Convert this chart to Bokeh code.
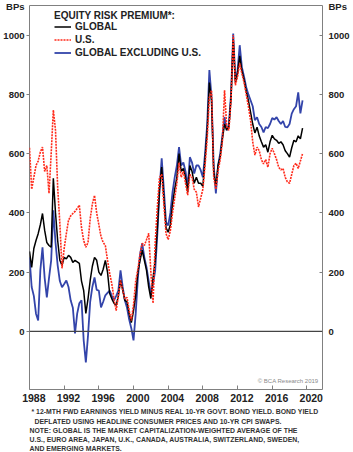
import numpy as np
from bokeh.plotting import figure
from bokeh.models import (Range1d, LinearAxis, FixedTicker, Span, Label, Legend,
                          LegendItem, ColumnDataSource, Title)
from bokeh.embed import file_html
from bokeh.resources import INLINE

# ---------------- data (quarterly, bps) ----------------
quarters = np.arange(1988.0, 2019.51, 0.25)

us = [620, 480, 520, 560, 575, 605, 622, 540, 560, 466, 600, 747, 679, 486, 365, 213,
      280, 330, 375, 390, 398, 405, 415, 426, 350, 307, 284, 300, 380, 430, 459, 400,
      360, 320, 300, 290, 240, 196, 160, 110, 70, 120, 172, 140, 110, 115, 70, 37,
      90, 170, 210, 260, 297, 290, 310, 331, 200, 95, 300, 420, 520, 530, 430, 330,
      310, 340, 400, 450, 500, 570, 520, 540, 500, 460, 530, 520, 480, 470, 420, 450,
      480, 560, 650, 790, 814, 520, 480, 540, 580, 640, 814, 690, 679, 780, 1000, 831,
      860, 905, 870, 840, 800, 760, 713, 640, 595, 622, 610, 580, 565, 580, 554, 600,
      618, 600, 580, 554, 545, 550, 520, 505, 500, 530, 560, 568, 550, 575, 600]

glob = [270, 216, 280, 307, 330, 360, 398, 341, 300, 290, 284, 517, 400, 307, 240, 223,
        250, 245, 257, 250, 233, 240, 235, 230, 170, 138, 61, 110, 172, 220, 250, 240,
        200, 189, 210, 240, 200, 128, 110, 95, 88, 120, 172, 140, 105, 100, 60, 30,
        70, 122, 200, 240, 274, 240, 206, 150, 111, 180, 240, 350, 480, 555, 450, 350,
        335, 360, 430, 480, 520, 600, 540, 550, 520, 470, 560, 540, 500, 520, 500, 500,
        490, 580, 680, 840, 780, 540, 490, 560, 590, 650, 700, 680, 690, 790, 985, 840,
        870, 930, 880, 850, 810, 780, 740, 700, 670, 689, 660, 640, 622, 630, 605, 640,
        662, 650, 645, 635, 640, 630, 610, 600, 588, 620, 645, 640, 660, 650, 686]

glob_ex_us = [250, 150, 120, 60, 37, 206, 284, 180, 115, 180, 240, 409, 300, 223, 170, 149,
              160, 172, 150, 105, 80, -7, 60, 95, 105, -30, -105, -14, 100, 150, 182, 140,
              138, 81, 100, 122, 130, 138, 120, 105, 120, 138, 206, 150, 105, 80, 40, 10,
              -30, 60, 180, 260, 297, 250, 216, 170, 128, 160, 206, 330, 480, 584, 480, 368,
              358, 400, 470, 520, 560, 622, 560, 570, 540, 487, 588, 570, 533, 560, 560, 544,
              520, 600, 700, 882, 791, 560, 466, 560, 600, 660, 723, 679, 700, 800, 1005, 848,
              880, 966, 892, 860, 824, 800, 780, 760, 713, 723, 700, 690, 672, 690, 686, 700,
              720, 715, 723, 710, 700, 710, 690, 689, 700, 735, 750, 760, 807, 736, 780]

y_ticks = [0, 200, 400, 600, 800, 1000]
unit_pos = 1095          # where the "BPs" unit caption sits on the value scale
unit_text = "BPs"
year_ticks = [1988, 1992, 1996, 2000, 2004, 2008, 2012, 2016, 2020]
year_labels = ["1988", "1992", "1996", "2000", "2004", "2008", "2012", "2016", "2020"]

legend_title = "EQUITY RISK PREMIUM*:"
names = ["GLOBAL", "U.S.", "GLOBAL EXCLUDING U.S."]
footnotes = [
    "* 12-MTH FWD EARNINGS YIELD MINUS REAL 10-YR GOVT. BOND YIELD. BOND YIELD",
    "DEFLATED USING HEADLINE CONSUMER PRICES AND 10-YR CPI SWAPS.",
    "NOTE: GLOBAL IS THE MARKET CAPITALIZATION-WEIGHTED AVERAGE OF THE",
    "U.S., EURO AREA, JAPAN, U.K., CANADA, AUSTRALIA, SWITZERLAND, SWEDEN,",
    "AND EMERGING MARKETS.",
]
footnote_indent = [2, 5, 0, 0, 0]
footnote_gap = [1.5, 0, 0, 0, 0]

# ---------------- figure ----------------
FONT = "Liberation Sans"
TXT = "#222222"

p = figure(width=353, height=452, output_backend="svg", toolbar_location=None,
           x_range=Range1d(1988, 2021.8), y_range=Range1d(-196, 1100),
           x_axis_location=None, y_axis_location=None,
           min_border_left=27, min_border_right=31, min_border_top=5, min_border_bottom=63)
p.xgrid.visible = False
p.ygrid.visible = False
p.outline_line_color = "#808080"
p.outline_line_width = 1
p.background_fill_color = "white"
p.border_fill_color = "white"

src = ColumnDataSource(dict(x=quarters, us=us, glob=glob, ex=glob_ex_us))

zero = Span(location=0, dimension="width", line_color="#444444", line_width=1.3)
p.add_layout(zero)

r_ex = p.line("x", "ex", source=src, line_color="#3344aa", line_width=1.8)
r_gl = p.line("x", "glob", source=src, line_color="#000000", line_width=1.5)
r_us = p.line("x", "us", source=src, line_color="#ff2a1a", line_width=1.6, line_dash="2 1")

# y axes: labels on major ticks (values + unit caption), tick marks on minor ticks
def make_y(side):
    ax = LinearAxis(ticker=FixedTicker(ticks=y_ticks + [unit_pos], minor_ticks=y_ticks))
    ax.major_label_overrides = {unit_pos: unit_text}
    ax.axis_line_color = None
    ax.major_tick_line_color = None
    ax.minor_tick_line_color = "#808080"
    ax.major_label_text_font = FONT
    ax.major_label_text_font_style = "bold"
    ax.major_label_text_font_size = "9.5px"
    ax.major_label_text_color = TXT
    if side == "left":
        ax.major_tick_out = 3
        ax.major_tick_in = 0
        ax.minor_tick_out = 3
        ax.minor_tick_in = 0
        ax.major_label_standoff = 2
    else:
        ax.major_tick_out = 0
        ax.major_tick_in = 0
        ax.minor_tick_out = 0
        ax.minor_tick_in = 3
        ax.major_label_standoff = 6
    p.add_layout(ax, side)

make_y("left")
make_y("right")

# x axis: labels centred in the first year of each 4-year block, marks at year starts
label_pos = [y + 0.5 for y in year_ticks]
xl = LinearAxis(ticker=FixedTicker(ticks=label_pos, minor_ticks=year_ticks))
xl.major_label_overrides = {lp: lab for lp, lab in zip(label_pos, year_labels)}
xl.axis_line_color = None
xl.major_tick_line_color = None
xl.major_tick_in = 0
xl.major_tick_out = 0
xl.minor_tick_line_color = "#808080"
xl.minor_tick_in = 4
xl.minor_tick_out = 0
xl.major_label_standoff = 4
xl.major_label_text_font = FONT
xl.major_label_text_font_style = "bold"
xl.major_label_text_font_size = "10.5px"
xl.major_label_text_color = TXT
p.add_layout(xl, "below")

# footnotes
for t, off, gap in zip(footnotes, footnote_indent, footnote_gap):
    p.add_layout(Title(text=t, align="left", offset=off, standoff=gap,
                       text_font=FONT, text_font_style="bold", text_font_size="6.9px",
                       text_line_height=0.92, text_color="#333333"), "below")

# legend
legend = Legend(items=[LegendItem(label=names[0], renderers=[r_gl]),
                       LegendItem(label=names[1], renderers=[r_us]),
                       LegendItem(label=names[2], renderers=[r_ex])],
                location=(25, 331), title=legend_title,
                title_text_font=FONT, title_text_font_style="bold",
                title_text_font_size="10px", title_text_color=TXT, title_standoff=0,
                label_text_font=FONT, label_text_font_style="bold",
                label_text_font_size="10px", label_text_color=TXT,
                glyph_width=17, glyph_height=11, label_height=11, label_standoff=4,
                spacing=2, padding=0, margin=0,
                border_line_color=None, background_fill_alpha=0)
p.add_layout(legend)

p.add_layout(Label(x=289, y=9, x_units="screen", y_units="screen", text="© BCA Research 2019",
                   text_align="right", text_baseline="middle", text_font=FONT,
                   text_font_size="6px", text_color="#8a8a8a"))

open("out.html", "w").write(file_html(p, INLINE))
